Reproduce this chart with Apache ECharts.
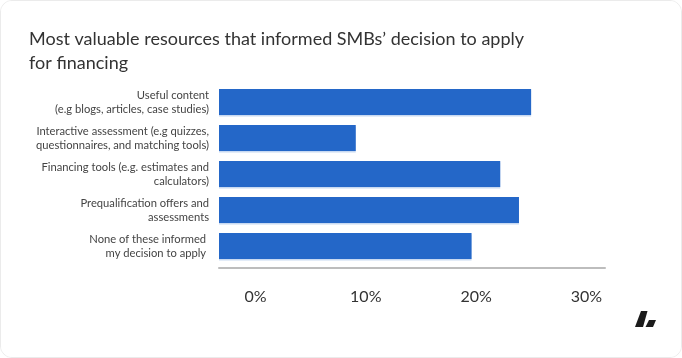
<!DOCTYPE html>
<html>
<head>
<meta charset="utf-8">
<script src="https://cdn.jsdelivr.net/npm/echarts@6/dist/echarts.min.js"></script>
<style>
  html, body { margin: 0; padding: 0; background: #ffffff; }
  #card { position: absolute; left: 0; top: 0; width: 680px; height: 356px; border: 1px solid #ebebeb; border-radius: 12px; background: #fff; overflow: hidden; }
  #chart { width: 680px; height: 356px; }
</style>
</head>
<body>
<div id="card"><div id="chart"></div></div>
<script>
const titleText = 'Most valuable resources that informed SMBs\u2019 decision to apply\nfor financing';
const categories = [
  'Useful content\n(e.g blogs, articles, case studies)',
  'Interactive assessment (e.g quizzes,\nquestionnaires, and matching tools)',
  'Financing tools (e.g. estimates and\ncalculators)',
  'Prequalification offers and\nassessments',
  'None of these informed \nmy decision to apply '
];
const values = [28.3, 12.4, 25.5, 27.2, 22.9];
const axisMin = 0;
const axisMax = 35;
const axisInterval = 10;

const chart = echarts.init(document.getElementById('chart'), null, { renderer: 'canvas' });
chart.setOption({
  animation: false,
  backgroundColor: '#ffffff',
  title: {
    text: titleText,
    left: 23,
    top: 21,
    textStyle: { fontFamily: 'Lato', fontSize: 18, fontWeight: 'normal', color: '#333333', lineHeight: 24 }
  },
  grid: { left: 218, right: 76, top: 83, height: 180, containLabel: false },
  xAxis: {
    type: 'value',
    min: axisMin,
    max: axisMax,
    interval: axisInterval,
    offset: 4,
    splitLine: { show: false },
    axisTick: { show: false },
    axisLine: { show: true, lineStyle: { color: '#bdbdbd', width: 2 } },
    axisLabel: {
      showMaxLabel: false,
      formatter: '{value}%',
      fontFamily: 'Lato',
      fontSize: 16,
      color: '#333333',
      margin: 21,
      padding: [0, 0, 0, 73]
    }
  },
  yAxis: {
    type: 'category',
    inverse: true,
    data: categories,
    axisLine: { show: false },
    axisTick: { show: false },
    splitLine: { show: false },
    axisLabel: {
      fontFamily: 'Lato',
      fontSize: 11.2,
      lineHeight: 14,
      color: '#444444',
      margin: 10,
      align: 'right'
    }
  },
  series: [{
    type: 'bar',
    data: values,
    barWidth: 26,
    itemStyle: { color: '#2467c8', shadowColor: 'rgba(36,103,200,0.25)', shadowOffsetY: 1.5, shadowBlur: 0 },
    silent: true
  }],
  graphic: [
    { type: 'polygon', shape: { points: [[640, 310], [646.5, 310], [642, 326], [634, 326]] }, style: { fill: '#1b1b1b' } },
    { type: 'polygon', shape: { points: [[648, 319], [655, 319], [652, 326], [644.5, 326]] }, style: { fill: '#1b1b1b' } }
  ]
});
</script>
</body>
</html>
